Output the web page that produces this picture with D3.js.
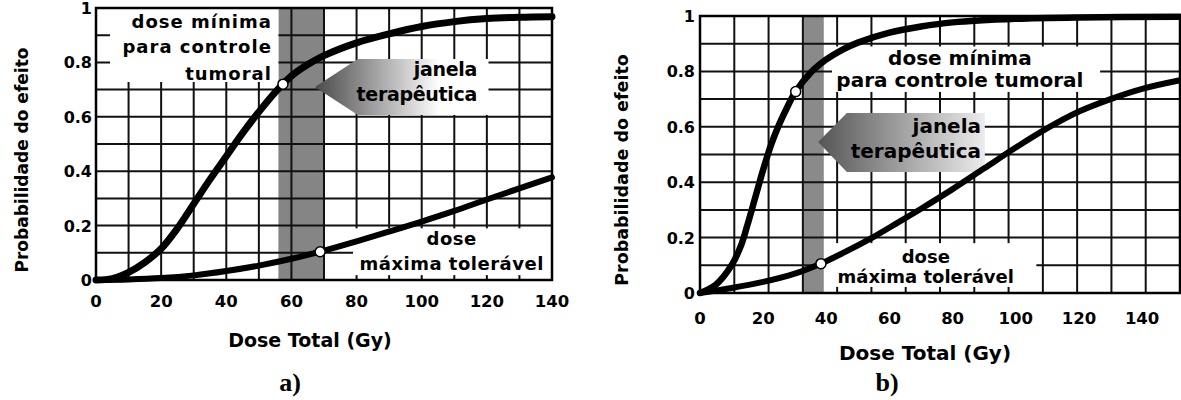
<!DOCTYPE html>
<html>
<head>
<meta charset="utf-8">
<script src="https://cdn.jsdelivr.net/npm/d3@7/dist/d3.min.js"></script>
<style>
  body { margin: 0; background: #fff; }
  svg { display: block; }
</style>
</head>
<body>
<svg id="chart" width="1181" height="400"></svg>
<script>
// ---- data ----
// panel a)
var doseTcpA = [0, 5, 10, 15, 20, 25, 30, 35, 40, 45, 50, 55, 60, 65, 70, 80, 90, 100, 110, 120, 130, 140];
var tcpA     = [0, 0.005, 0.028, 0.065, 0.115, 0.19, 0.28, 0.37, 0.455, 0.54, 0.618, 0.69, 0.75, 0.792, 0.825, 0.872, 0.905, 0.932, 0.95, 0.961, 0.966, 0.968];
var doseNtcpA = [0, 10, 20, 30, 40, 50, 60, 70, 80, 90, 100, 110, 120, 130, 140];
var ntcpA     = [0, 0.002, 0.007, 0.017, 0.033, 0.053, 0.078, 0.108, 0.142, 0.178, 0.215, 0.254, 0.296, 0.337, 0.377];
var bandA = [56, 70];
var markersA = [[57.4, 0.72], [68.8, 0.104]];

// panel b)
var doseTcpB = [0, 5, 10, 13, 15, 17.5, 20, 22.5, 25, 27.5, 30, 35, 40, 45, 50, 60, 70, 80, 100, 120, 152];
var tcpB     = [0, 0.03, 0.1, 0.172, 0.245, 0.345, 0.445, 0.535, 0.607, 0.668, 0.722, 0.795, 0.843, 0.878, 0.904, 0.94, 0.962, 0.977, 0.99, 0.995, 0.997];
var doseNtcpB = [0, 10, 20, 30, 38, 45, 55, 62.5, 70, 80, 90, 100, 110, 120, 130, 140, 152];
var ntcpB     = [0, 0.018, 0.04, 0.07, 0.105, 0.143, 0.203, 0.253, 0.304, 0.375, 0.45, 0.525, 0.595, 0.655, 0.70, 0.737, 0.768];
var bandB = [32.6, 39.2];
var markersB = [[30.3, 0.727], [38.3, 0.106]];

// ticks
var xTicks = [0, 20, 40, 60, 80, 100, 120, 140];
var yTicks = [0, 0.2, 0.4, 0.6, 0.8, 1];
var yTickLabels = ["0", "0.2", "0.4", "0.6", "0.8", "1"];

var yTitle = "Probabilidade do efeito";
var xTitle = "Dose Total (Gy)";

// ---- layout per panel ----
var panels = [
  {
    id: "a", caption: "a)", left: 96, right: 552, top: 8, bottom: 280, xMax: 140,
    tcp: [doseTcpA, tcpA], ntcp: [doseNtcpA, ntcpA], band: bandA, markers: markersA,
    bandColor: "#858585",
    masks: [[4.3, 56, 0.728, 1], [78.9, 140, 0.018, 0.19]],
    arrow: { tip: [67.2, 0.71], x0: 80.4, x1: 120.5, y0: 0.607, y1: 0.8125, from: "#4a4a4a", to: "#ffffff", stop: 0.72 },
    labels: [
      { lines: ["dose mínima", "para controle", "tumoral"], x: 54, ys: [0.926, 0.833, 0.735], anchor: "end", size: 18, ls: 1 },
      { lines: ["janela", "terapêutica"], x: 117, ys: [0.751, 0.658], anchor: "end", size: 19, ls: -0.3 },
      { lines: ["dose", "máxima tolerável"], x: 109.2, ys: [0.129, 0.037], anchor: "middle", size: 18, ls: 0.5 }
    ],
    yLabelX: 92, xLabelY: 307, yTitleX: 22, yTitleY: 160, yTitleSize: 17,
    xTitleX: 310, xTitleY: 347, xTitleSize: 19, captionX: 290,
    tcpWidth: 7, ntcpWidth: 6
  },
  {
    id: "b", caption: "b)", left: 700, right: 1180, top: 16, bottom: 293, xMax: 152,
    tcp: [doseTcpB, tcpB], ntcp: [doseNtcpB, ntcpB], band: bandB, markers: markersB,
    bandColor: "#8a8a8a",
    masks: [[41.8, 126.7, 0.726, 0.89], [39.9, 106.5, 0.022, 0.18]],
    arrow: { tip: [37.4, 0.545], x0: 46.5, x1: 90.2, y0: 0.437, y1: 0.65, from: "#555555", to: "#ececec", stop: 1 },
    labels: [
      { lines: ["dose mínima", "para controle tumoral"], x: 82.3, ys: [0.823, 0.744], anchor: "middle", size: 20, ls: 0 },
      { lines: ["janela", "terapêutica"], x: 89, ys: [0.578, 0.487], anchor: "end", size: 20, ls: 0 },
      { lines: ["dose", "máxima tolerável"], x: 71.5, ys: [0.108, 0.036], anchor: "middle", size: 18, ls: 0 }
    ],
    yLabelX: 695, xLabelY: 324, yTitleX: 622, yTitleY: 170, yTitleSize: 17.5,
    xTitleX: 925, xTitleY: 360, xTitleSize: 20, captionX: 887,
    tcpWidth: 6.5, ntcpWidth: 6
  }
];

var font = "'DejaVu Sans', Verdana, sans-serif";
var svg = d3.select("#chart");
var defs = svg.append("defs");

panels.forEach(function(p) {
  var x = d3.scaleLinear().domain([0, p.xMax]).range([p.left, p.right]);
  var y = d3.scaleLinear().domain([0, 1]).range([p.bottom, p.top]);
  var g = svg.append("g").attr("class", "panel-" + p.id);

  // shaded band (therapeutic window)
  g.append("rect")
    .attr("x", x(p.band[0]))
    .attr("y", p.top)
    .attr("width", x(p.band[1]) - x(p.band[0]))
    .attr("height", p.bottom - p.top)
    .attr("fill", p.bandColor);

  // grid: 14 columns x 10 rows
  var gx = d3.range(15).map(function(i) { return i * p.xMax / 14; });
  var gy = d3.range(11).map(function(i) { return i / 10; });
  g.selectAll(".gx").data(gx).enter().append("line")
    .attr("x1", function(d) { return x(d); })
    .attr("x2", function(d) { return x(d); })
    .attr("y1", p.top).attr("y2", p.bottom)
    .attr("stroke", "#111").attr("stroke-width", 2);
  g.selectAll(".gy").data(gy).enter().append("line")
    .attr("x1", p.left).attr("x2", p.right)
    .attr("y1", function(d) { return y(d); })
    .attr("y2", function(d) { return y(d); })
    .attr("stroke", "#111").attr("stroke-width", 2);

  // white boxes behind the labels
  g.selectAll(".mask").data(p.masks).enter().append("rect")
    .attr("x", function(d) { return x(d[0]); })
    .attr("y", function(d) { return y(d[3]); })
    .attr("width", function(d) { return x(d[1]) - x(d[0]); })
    .attr("height", function(d) { return y(d[2]) - y(d[3]); })
    .attr("fill", "#fff");

  // arrow "janela terapeutica" with gradient
  var a = p.arrow;
  var grad = defs.append("linearGradient").attr("id", "grad-" + p.id)
    .attr("gradientUnits", "userSpaceOnUse")
    .attr("x1", x(a.tip[0])).attr("x2", x(a.x1)).attr("y1", 0).attr("y2", 0);
  grad.append("stop").attr("offset", 0).attr("stop-color", a.from);
  grad.append("stop").attr("offset", a.stop).attr("stop-color", a.to);
  if (a.stop < 1) grad.append("stop").attr("offset", 1).attr("stop-color", a.to);
  var pts = [[a.tip[0], a.tip[1]], [a.x0, a.y1], [a.x1, a.y1], [a.x1, a.y0], [a.x0, a.y0]];
  g.append("path")
    .attr("d", "M" + pts.map(function(d) { return x(d[0]) + "," + y(d[1]); }).join("L") + "Z")
    .attr("fill", "url(#grad-" + p.id + ")");

  // curves
  var line = d3.line()
    .x(function(d) { return x(d[0]); })
    .y(function(d) { return y(d[1]); })
    .curve(d3.curveCatmullRom.alpha(0.5));
  [[p.tcp, p.tcpWidth], [p.ntcp, p.ntcpWidth]].forEach(function(c) {
    var pairs = c[0][0].map(function(d, i) { return [d, c[0][1][i]]; });
    g.append("path").datum(pairs)
      .attr("d", line)
      .attr("fill", "none")
      .attr("stroke", "#000")
      .attr("stroke-width", c[1])
      .attr("stroke-linecap", "round")
      .attr("stroke-linejoin", "round");
  });

  // markers
  g.selectAll(".mk").data(p.markers).enter().append("circle")
    .attr("cx", function(d) { return x(d[0]); })
    .attr("cy", function(d) { return y(d[1]); })
    .attr("r", 5)
    .attr("fill", "#fff")
    .attr("stroke", "#000")
    .attr("stroke-width", 1.5);

  // plot border
  g.append("rect")
    .attr("x", p.left).attr("y", p.top)
    .attr("width", p.right - p.left).attr("height", p.bottom - p.top)
    .attr("fill", "none").attr("stroke", "#000").attr("stroke-width", 2.5);

  // annotation labels
  p.labels.forEach(function(lb) {
    lb.lines.forEach(function(t, i) {
      g.append("text")
        .attr("x", x(lb.x))
        .attr("y", y(lb.ys[i]))
        .attr("text-anchor", lb.anchor)
        .attr("font-family", font)
        .attr("font-weight", "bold")
        .attr("font-size", lb.size + "px")
        .attr("letter-spacing", lb.ls)
        .attr("fill", "#000")
        .text(t);
    });
  });

  // tick labels
  g.selectAll(".yl").data(yTicks).enter().append("text")
    .attr("x", p.yLabelX)
    .attr("y", function(d) { return y(d) + 6; })
    .attr("text-anchor", "end")
    .attr("font-family", font).attr("font-weight", "bold").attr("font-size", "16px")
    .text(function(d, i) { return yTickLabels[i]; });
  g.selectAll(".xl").data(xTicks).enter().append("text")
    .attr("x", function(d) { return x(d); })
    .attr("y", p.xLabelY)
    .attr("text-anchor", "middle")
    .attr("font-family", font).attr("font-weight", "bold").attr("font-size", "16.5px")
    .text(function(d) { return d; });

  // axis titles
  g.append("text")
    .attr("transform", "translate(" + p.yTitleX + "," + p.yTitleY + ") rotate(-90)")
    .attr("text-anchor", "middle").attr("dominant-baseline", "central")
    .attr("font-family", font).attr("font-weight", "bold").attr("font-size", p.yTitleSize + "px")
    .text(yTitle);
  g.append("text")
    .attr("x", p.xTitleX).attr("y", p.xTitleY)
    .attr("text-anchor", "middle")
    .attr("font-family", font).attr("font-weight", "bold").attr("font-size", p.xTitleSize + "px")
    .text(xTitle);

  // caption
  g.append("text")
    .attr("x", p.captionX).attr("y", 391)
    .attr("text-anchor", "middle")
    .attr("font-family", "'Liberation Serif', 'Times New Roman', serif")
    .attr("font-weight", "bold").attr("font-size", "26px")
    .text(p.caption);
});
</script>
</body>
</html>
